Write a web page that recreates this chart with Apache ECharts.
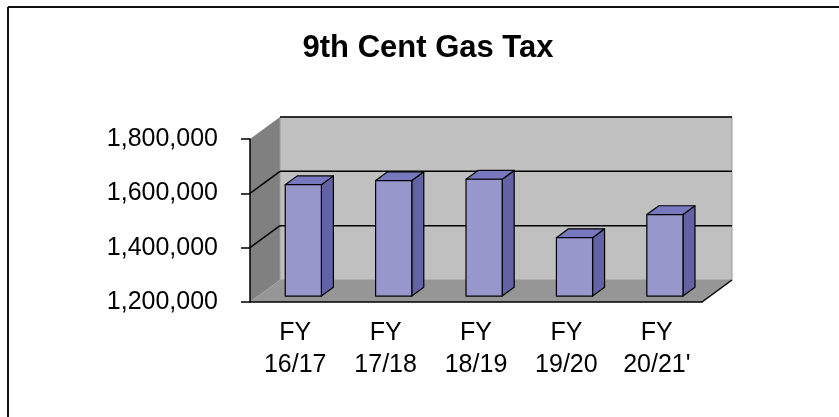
<!DOCTYPE html>
<html>
<head>
<meta charset="utf-8">
<script src="https://cdn.jsdelivr.net/npm/echarts@6/dist/echarts.min.js"></script>
<style>
html, body { margin: 0; padding: 0; background: #fff; }
#main { width: 839px; height: 417px; }
</style>
</head>
<body>
<div id="main"></div>
<script>
var categories = ['FY\n16/17', 'FY\n17/18', 'FY\n18/19', 'FY\n19/20', "FY\n20/21'"];
var taxValues = [1610000, 1625000, 1630000, 1415000, 1500000];
var yMin = 1200000, yMax = 1800000, yStep = 200000;
var gridValues = [1400000, 1600000, 1800000];

// depth of the fake 3d box, in pixels
var DX = 30, DY = -22;
var D1 = 0.27, D2 = 0.67;

function fmt(v) {
    return String(v).replace(/\B(?=(\d{3})+(?!\d))/g, ',');
}

function renderWalls(params, api) {
    var cs = params.coordSys;
    var l = cs.x, r = cs.x + cs.width, t = cs.y, b = cs.y + cs.height;
    var kids = [];
    // left side wall
    kids.push({type: 'polygon', shape: {points: [[l, b], [l, t], [l + DX, t + DY], [l + DX, b + DY]]},
        style: {fill: '#808080'}});
    // back wall
    kids.push({type: 'polygon', shape: {points: [[l + DX, t + DY], [r + DX, t + DY], [r + DX, b + DY], [l + DX, b + DY]]},
        style: {fill: '#c0c0c0', stroke: '#9a9a9a', lineWidth: 1}});
    // floor
    kids.push({type: 'polygon', shape: {points: [[l, b], [r, b], [r + DX, b + DY], [l + DX, b + DY]]},
        style: {fill: '#969696'}});
    kids.push({type: 'line', shape: {x1: r, y1: b, x2: r + DX, y2: b + DY},
        style: {stroke: '#000', lineWidth: 1.5}});
    for (var i = 0; i < gridValues.length; i++) {
        var y = api.coord([0, gridValues[i]])[1];
        kids.push({type: 'line', shape: {x1: l + DX, y1: y + DY, x2: r + DX, y2: y + DY},
            style: {stroke: '#000', lineWidth: 1.5}});
        if (gridValues[i] < yMax) {
            kids.push({type: 'line', shape: {x1: l, y1: y, x2: l + DX, y2: y + DY},
                style: {stroke: '#000', lineWidth: 1.5}});
        }
    }
    return {type: 'group', children: kids};
}

function renderBar(params, api) {
    var idx = api.value(0);
    var top = api.coord([idx, api.value(1)]);
    var base = api.coord([idx, yMin]);
    var band = api.size([1, 0])[0];
    var w = band * 0.4;
    var x0 = base[0] - w / 2 + D1 * DX;
    var yt = top[1] + D1 * DY, yb = base[1] + D1 * DY;
    var ddx = (D2 - D1) * DX, ddy = (D2 - D1) * DY;
    var line = {stroke: '#000', lineWidth: 1.2, lineJoin: 'round'};
    return {type: 'group', children: [
        {type: 'polygon', shape: {points: [[x0 + w, yt], [x0 + w + ddx, yt + ddy], [x0 + w + ddx, yb + ddy], [x0 + w, yb]]},
            style: Object.assign({fill: '#6262a4'}, line)},
        {type: 'polygon', shape: {points: [[x0, yt], [x0 + ddx, yt + ddy], [x0 + w + ddx, yt + ddy], [x0 + w, yt]]},
            style: Object.assign({fill: '#7878be'}, line)},
        {type: 'rect', shape: {x: x0, y: yt, width: w, height: yb - yt},
            style: Object.assign({fill: '#9797cb'}, line)}
    ]};
}

var chart = echarts.init(document.getElementById('main'));
chart.setOption({
    animation: false,
    grid: {left: 250, right: 137, top: 139, bottom: 115},
    graphic: [
        {type: 'line', shape: {x1: 8, y1: 7, x2: 839, y2: 7}, style: {stroke: '#111', lineWidth: 2}},
        {type: 'line', shape: {x1: 8, y1: 7, x2: 8, y2: 417}, style: {stroke: '#111', lineWidth: 2}},
        {type: 'text', x: 428, y: 48, style: {text: '9th Cent Gas Tax', fontFamily: 'Liberation Sans, Arial, sans-serif',
            fontSize: 31, fontWeight: 'bold', fill: '#000', align: 'center', verticalAlign: 'middle'}}
    ],
    xAxis: {
        type: 'category',
        data: categories,
        axisLine: {lineStyle: {color: '#000', width: 1.5}},
        axisTick: {length: 9, lineStyle: {color: '#000', width: 1.5}},
        axisLabel: {color: '#000', fontSize: 25, lineHeight: 32, margin: 15,
            fontFamily: 'Liberation Sans, Arial, sans-serif'},
        splitLine: {show: false}
    },
    yAxis: {
        type: 'value',
        min: yMin, max: yMax, interval: yStep,
        axisLine: {show: true, lineStyle: {color: '#000', width: 1.5}},
        axisTick: {show: true, length: 9, lineStyle: {color: '#000', width: 1.5}},
        axisLabel: {color: '#000', fontSize: 25, margin: 32, formatter: fmt,
            fontFamily: 'Liberation Sans, Arial, sans-serif'},
        splitLine: {show: false}
    },
    series: [
        {type: 'custom', z: -1, renderItem: renderWalls, data: [[0, yMin]], silent: true},
        {type: 'custom', z: 2, renderItem: renderBar,
            data: taxValues.map(function (v, i) { return [i, v]; })}
    ]
});
</script>
</body>
</html>
